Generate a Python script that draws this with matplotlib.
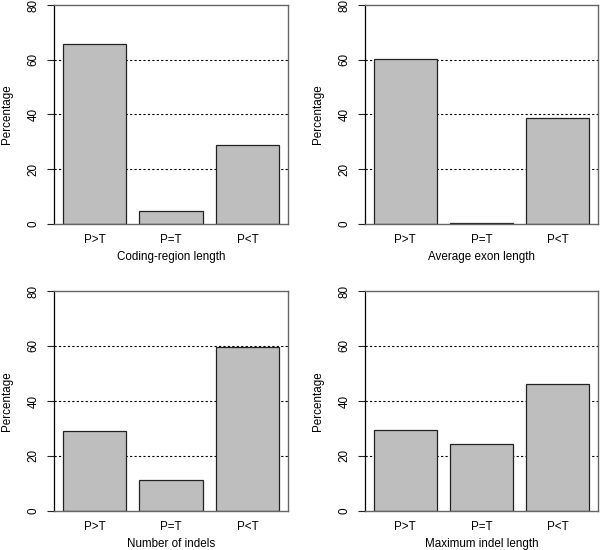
import matplotlib
matplotlib.use('Agg')
import matplotlib.pyplot as plt
import numpy as np

categories = ['P>T', 'P=T', 'P<T']
coding_region = [65.7, 4.6, 29.0]
avg_exon = [60.4, 0.4, 38.8]
num_indels = [29.2, 11.1, 59.7]
max_indel = [29.5, 24.3, 46.1]
panel_labels = ['Coding-region length', 'Average exon length',
                'Number of indels', 'Maximum indel length']
yticks = [0, 20, 40, 60, 80]
grid_levels = [20, 40, 60]

plt.rcParams['font.family'] = ['Liberation Sans', 'DejaVu Sans']
plt.rcParams['font.size'] = 8.4

fig = plt.figure(figsize=(6, 5.5), dpi=100)
W, H = 600.0, 550.0
# (left px, right px, top px, bottom px)
boxes = [(54, 288, 5, 224), (365, 598, 5, 224),
         (54, 288, 291, 511), (365, 598, 291, 511)]
data = [coding_region, avg_exon, num_indels, max_indel]

# R barplot geometry: width 1, space 0.2
centers = 0.7 + 1.2 * np.arange(len(categories))

for (l, r, t, b), vals, lab in zip(boxes, data, panel_labels):
    ax = fig.add_axes([l / W, 1 - b / H, (r - l) / W, (b - t) / H])
    for g in grid_levels:
        ax.axhline(g, color='black', lw=0.8, linestyle=(0, (2, 2)), zorder=1)
    ax.bar(centers, vals, width=1.0, color='#bebebe', edgecolor='#222222',
           linewidth=0.9, zorder=2)
    ax.set_xlim(0.064, 3.736)
    ax.set_ylim(0, 80)
    ax.set_xticks(centers)
    ax.set_xticklabels(categories)
    ax.tick_params(axis='x', length=0, pad=7)
    ax.set_yticks(yticks)
    ax.set_yticklabels([str(v) for v in yticks], rotation=90, va='center')
    ax.tick_params(axis='y', length=5.4, width=0.8, pad=5, color='#222222')
    for s in ['top', 'right', 'bottom']:
        ax.spines[s].set_color('#666666')
        ax.spines[s].set_linewidth(1.0)
    ax.spines['left'].set_color('black')
    ax.spines['left'].set_linewidth(0.9)
    ax.set_xlabel(lab, labelpad=4)
    ax.text(-47.0 / (r - l), 0.5, 'Percentage', rotation=90,
            ha='center', va='center', transform=ax.transAxes)

fig.savefig('out.png', dpi=100)
